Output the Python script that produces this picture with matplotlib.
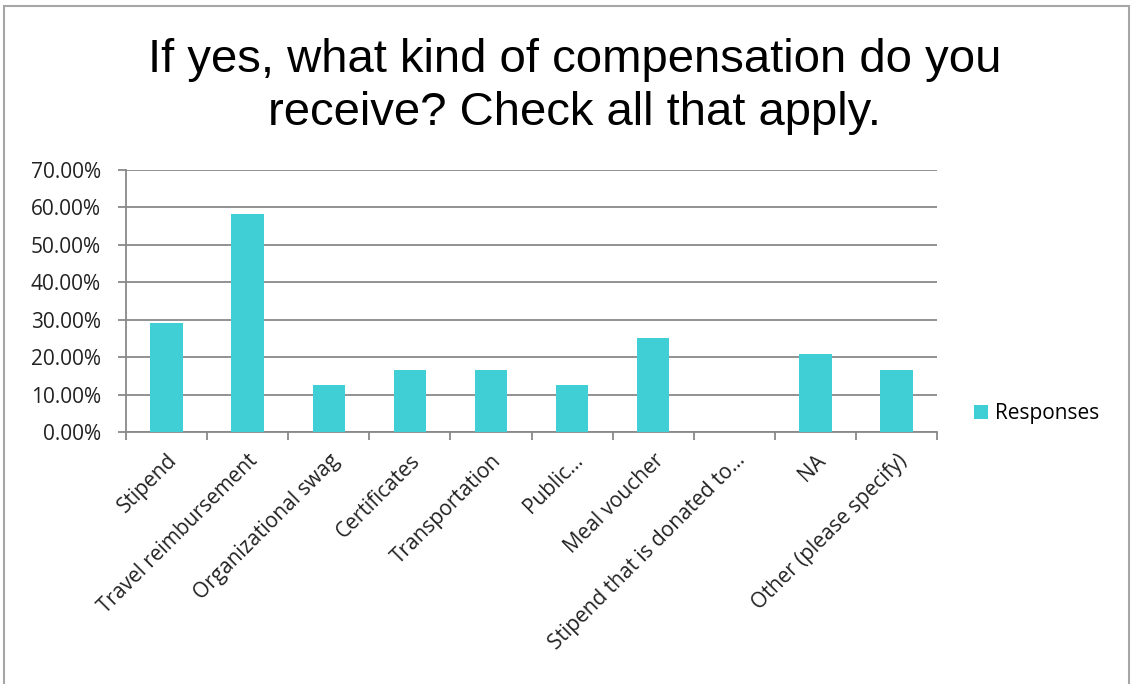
import matplotlib
matplotlib.use("Agg")
import matplotlib.pyplot as plt
import numpy as np
from matplotlib.patches import Rectangle
from matplotlib.ticker import FuncFormatter, FixedLocator

categories = ["Stipend", "Travel reimbursement", "Organizational swag", "Certificates",
              "Transportation", "Public...", "Meal voucher", "Stipend that is donated to...",
              "NA", "Other (please specify)"]
responses = [29.17, 58.33, 12.50, 16.67, 16.67, 12.50, 25.00, 0.00, 20.83, 16.67]
title_lines = ["If yes, what kind of compensation do you",
               "receive? Check all that apply."]

bar_color = "#41CFD6"
grid_color = "#898989"
label_font = "Open Sans"

fig = plt.figure(figsize=(11.34, 6.84), dpi=100)
# chart frame
fig.patches.append(Rectangle((4 / 1134, -0.01), 1125 / 1134, 1 - 6 / 684 + 0.01,
                             transform=fig.transFigure, fill=False,
                             edgecolor="#A6A6A6", linewidth=1.5))

ax = fig.add_axes([126 / 1134, 1 - 432 / 684, (937 - 126) / 1134, (432 - 170) / 684])
x = np.arange(len(categories))
bars = ax.bar(x, responses, width=0.4, color=bar_color, zorder=3, label="Responses")

ax.set_xlim(-0.5, len(categories) - 0.5)
ax.set_ylim(0, 70)
ax.yaxis.set_major_locator(FixedLocator(np.arange(0, 71, 10)))
ax.yaxis.set_major_formatter(FuncFormatter(lambda v, p: f"{v:.2f}%"))
ax.grid(axis="y", color=grid_color, linewidth=1.3, zorder=0)

ax.set_xticks(x)
ax.set_xticklabels(categories, rotation=45, ha="right", rotation_mode="anchor",
                   fontsize=15, family=label_font, color="#222222")
ax.xaxis.set_minor_locator(FixedLocator(np.arange(-0.5, len(categories), 1)))
ax.tick_params(axis="x", which="major", length=0, pad=13)
ax.tick_params(axis="x", which="minor", length=6, color=grid_color, width=1.3)
ax.tick_params(axis="y", length=6, color=grid_color, width=1.3, labelsize=15,
               labelcolor="#222222", pad=12)
for lab in ax.get_yticklabels():
    lab.set_family(label_font)

for side in ["top", "right"]:
    ax.spines[side].set_visible(False)
for side in ["left", "bottom"]:
    ax.spines[side].set_color(grid_color)
    ax.spines[side].set_linewidth(1.3)

for line, base_y in zip(title_lines, [72, 125]):
    fig.text(575 / 1134, 1 - base_y / 684, line, ha="center", va="baseline",
             fontsize=34, family="Liberation Sans")

fig.legend(handles=[bars], labels=["Responses"], loc="center left",
           bbox_to_anchor=(955 / 1134, 1 - 414 / 684), frameon=False,
           handlelength=0.68, handleheight=0.68, handletextpad=0.35,
           prop={"family": label_font, "size": 15})

fig.savefig("out.png", dpi=100)
